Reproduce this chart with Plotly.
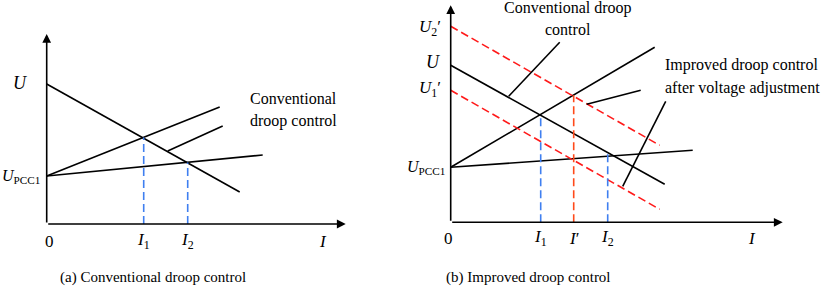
import plotly.graph_objects as go

# ---------- data (conceptual units: current I on x, voltage U on y) ----------
# Panel (a): conventional droop control
a_droop_x = [0.0, 19.3]
a_droop_y = [14.0, 3.2]
a_src1_x = [0.0, 17.3]
a_src1_y = [4.8, 11.7]
a_src2_x = [0.0, 21.6]
a_src2_y = [4.8, 6.9]
a_leader_x = [12.1, 17.6]
a_leader_y = [7.3, 9.8]
a_I = [9.7, 14.1]          # I1, I2
a_Iy = [8.65, 6.15]        # operating voltages
a_axis_end = [29.9, 19.0]  # x-arrow end, y-arrow end

# Panel (b): improved droop control
b_droop_x = [0.0, 21.4]
b_droop_y = [15.7, 3.8]
b_u2_x = [0.0, 20.9]
b_u2_y = [19.6, 7.7]
b_u1_x = [0.0, 20.9]
b_u1_y = [13.2, 1.3]
b_src1_x = [0.0, 20.4]
b_src1_y = [5.5, 17.5]
b_src2_x = [0.0, 24.2]
b_src2_y = [5.5, 7.2]
b_leaders = [([5.8, 10.9], [12.6, 18.0]),
             ([13.6, 19.0], [11.8, 13.2]),
             ([17.2, 21.5], [3.6, 12.1])]
b_I12 = [9.0, 15.7]        # I1, I2
b_I12y = [10.7, 7.0]
b_Ip = 12.3                # I'
b_Ipy = 12.7
b_axis_end = [33.2, 21.7]

tick_a = ["0", "<i>I</i><sub>1</sub>", "<i>I</i><sub>2</sub>", "<i>I</i>"]
tick_b = ["0", "<i>I</i><sub>1</sub>", "<i>I</i>\u2032", "<i>I</i><sub>2</sub>", "<i>I</i>"]
captions = ["(a) Conventional droop control", "(b) Improved droop control"]

BLACK = "#000000"
BLUE = "#3f7ff0"
RED = "#ff1a1a"
ORANGE = "#ff4a1a"
FONT = "Liberation Serif"

fig = go.Figure()

def line(x, y, color=BLACK, dash="solid", xa="x", ya="y", w=1.6):
    fig.add_trace(go.Scatter(x=x, y=y, mode="lines", xaxis=xa, yaxis=ya,
                             line=dict(color=color, width=w, dash=dash),
                             hoverinfo="skip", showlegend=False))

DASH = "8px,4px"

# Panel (a)
line(a_droop_x, a_droop_y)
line(a_src1_x, a_src1_y)
line(a_src2_x, a_src2_y)
line(a_leader_x, a_leader_y)
for xi, yi in zip(a_I, a_Iy):
    line([xi, xi], [0, yi], BLUE, DASH)

# Panel (b)
line(b_droop_x, b_droop_y, xa="x2", ya="y2")
line(b_src1_x, b_src1_y, xa="x2", ya="y2")
line(b_src2_x, b_src2_y, xa="x2", ya="y2")
line(b_u2_x, b_u2_y, RED, DASH, "x2", "y2")
line(b_u1_x, b_u1_y, RED, DASH, "x2", "y2")
for lx, ly in b_leaders:
    line(lx, ly, xa="x2", ya="y2")
for xi, yi in zip(b_I12, b_I12y):
    line([xi, xi], [0, yi], BLUE, DASH, "x2", "y2")
line([b_Ip, b_Ip], [0, b_Ipy], ORANGE, DASH, "x2", "y2")

ann = []

def arrow(xr, yr, x0, y0, x1, y1):
    ann.append(dict(x=x1, y=y1, ax=x0, ay=y0, xref=xr, yref=yr, axref=xr, ayref=yr,
                    text="", showarrow=True, arrowhead=2, arrowsize=1.1,
                    arrowwidth=1.6, arrowcolor=BLACK, standoff=0, startstandoff=0))

def text(xr, yr, x, y, t, size=16, xanchor="center"):
    ann.append(dict(x=x, y=y, xref=xr, yref=yr, text=t, showarrow=False,
                    xanchor=xanchor, yanchor="middle",
                    font=dict(family=FONT, size=size, color=BLACK)))

# axes arrows
arrow("x", "y", 0, 0, a_axis_end[0], 0)
arrow("x", "y", 0, 0, 0, a_axis_end[1])
arrow("x2", "y2", 0, 0, b_axis_end[0], 0)
arrow("x2", "y2", 0, 0, 0, b_axis_end[1])

# Panel (a) labels
text("x", "y", -2.7, 14.1, "<i>U</i>", 18)
text("x", "y", -0.5, 4.8, "<i>U</i><sub>PCC1</sub>", 16, "right")
for xv, t in zip([0.3, a_I[0], a_I[1], 27.6], tick_a):
    text("x", "y", xv, -1.7, t, 17)
text("x", "y", 20.1, 12.6, "Conventional", 16, "left")
text("x", "y", 20.1, 10.3, "droop control", 16, "left")

# Panel (b) labels
text("x2", "y2", -2.1, 19.4, "<i>U</i><sub>2</sub>\u2032", 17)
text("x2", "y2", -1.8, 16.0, "<i>U</i>", 18)
text("x2", "y2", -2.1, 13.3, "<i>U</i><sub>1</sub>\u2032", 17)
text("x2", "y2", -0.4, 5.5, "<i>U</i><sub>PCC1</sub>", 16, "right")
for xv, t in zip([-0.2, b_I12[0], b_Ip, b_I12[1], 30.1], tick_b):
    text("x2", "y2", xv, -1.6, t, 17)
text("x2", "y2", 11.7, 21.4, "Conventional droop", 16)
text("x2", "y2", 11.7, 19.3, "control", 16)
text("x2", "y2", 21.2, 15.7, "Improved droop control", 16, "left")
text("x2", "y2", 21.2, 13.4, "after voltage adjustment", 16, "left")

# captions
for cx, cap in zip([153, 528], captions):
    ann.append(dict(x=cx / 837, y=1 - 277 / 294, xref="paper", yref="paper",
                    text=cap, showarrow=False, xanchor="center", yanchor="middle",
                    font=dict(family=FONT, size=15, color=BLACK)))

hidden = dict(visible=False, showgrid=False, zeroline=False)
fig.update_layout(
    width=837, height=294, margin=dict(l=0, r=0, t=0, b=0),
    paper_bgcolor="white", plot_bgcolor="white",
    xaxis=dict(domain=[0, 0.5], range=[-4.67, 37.18], **hidden),
    yaxis=dict(domain=[0, 1], range=[-7.0, 22.4], **hidden),
    xaxis2=dict(domain=[0.5, 1], range=[-3.22, 38.63], **hidden),
    yaxis2=dict(domain=[0, 1], range=[-7.17, 22.23], anchor="x2", **hidden),
    annotations=ann, showlegend=False,
)

fig.write_html("out.html", config={"displayModeBar": False},
               post_script="document.body.style.margin='0px';")
